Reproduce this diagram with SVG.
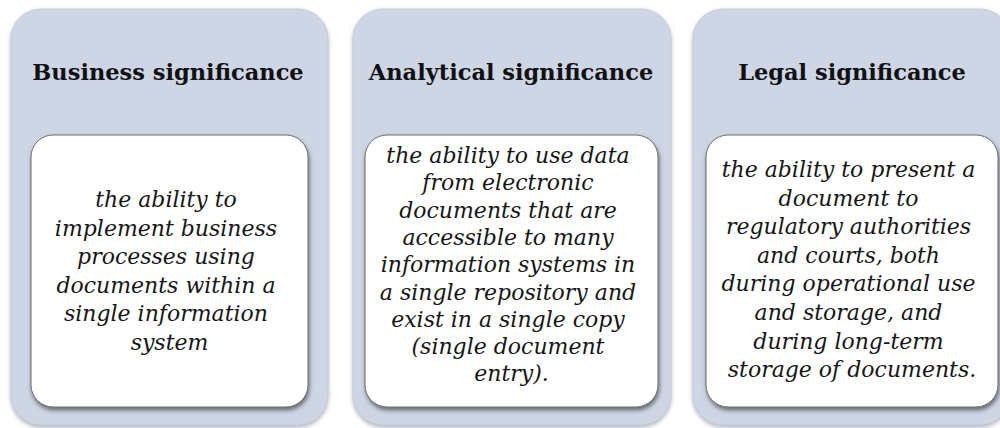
<svg xmlns="http://www.w3.org/2000/svg" width="1000" height="428" viewBox="0 0 1000 428">
  <defs>
    <filter id="outerShadow" x="-10%" y="-10%" width="120%" height="120%">
      <feDropShadow dx="0" dy="2" stdDeviation="2" flood-color="#7a8090" flood-opacity="0.6"/>
    </filter>
    <filter id="innerShadow" x="-10%" y="-10%" width="120%" height="120%">
      <feDropShadow dx="1" dy="3" stdDeviation="2" flood-color="#404040" flood-opacity="0.7"/>
    </filter>
  </defs>
  <style>
    .outer { fill: #ced6e5; stroke: #c2c8d4; stroke-width: 0.8; filter: url(#outerShadow); }
    .inner { fill: #ffffff; stroke: #6e6e6e; stroke-width: 1; filter: url(#innerShadow); }
    .head { font-family: "DejaVu Serif", "Liberation Serif", serif; font-weight: bold; font-size: 22.5px; fill: #111; text-anchor: middle; }
    .body { font-family: "DejaVu Serif", "Liberation Serif", serif; font-style: italic; font-size: 22px; fill: #161616; text-anchor: middle; }
  </style>
  <rect width="1000" height="428" fill="#ffffff"/>

  <g id="business">
    <rect class="outer" x="11" y="9" width="317" height="416" rx="30" ry="30"/>
    <text class="head" x="168" y="80">Business significance</text>
    <rect class="inner" x="31" y="135" width="277" height="272" rx="22" ry="22"/>
    <text class="body" x="169.5" y="207">
      <tspan x="169.5" dy="0">the ability to</tspan>
      <tspan x="169.5" dy="28.6">implement business</tspan>
      <tspan x="169.5" dy="28.6">processes using</tspan>
      <tspan x="169.5" dy="28.6">documents within a</tspan>
      <tspan x="169.5" dy="28.6">single information</tspan>
      <tspan x="169.5" dy="28.6">system</tspan>
    </text>
  </g>

  <g id="analytical">
    <rect class="outer" x="353" y="9" width="318" height="416" rx="30" ry="30"/>
    <text class="head" x="511" y="80">Analytical significance</text>
    <rect class="inner" x="365" y="135" width="293" height="272" rx="22" ry="22"/>
    <text class="body" x="511.5" y="163">
      <tspan x="511.5" dy="0">the ability to use data</tspan>
      <tspan x="511.5" dy="27.3">from electronic</tspan>
      <tspan x="511.5" dy="27.3">documents that are</tspan>
      <tspan x="511.5" dy="27.3">accessible to many</tspan>
      <tspan x="511.5" dy="27.3">information systems in</tspan>
      <tspan x="511.5" dy="27.3">a single repository and</tspan>
      <tspan x="511.5" dy="27.3">exist in a single copy</tspan>
      <tspan x="511.5" dy="27.3">(single document</tspan>
      <tspan x="511.5" dy="27.3">entry).</tspan>
    </text>
  </g>

  <g id="legal">
    <rect class="outer" x="693" y="9" width="317" height="416" rx="30" ry="30"/>
    <text class="head" x="852" y="80">Legal significance</text>
    <rect class="inner" x="706" y="135" width="292" height="272" rx="22" ry="22"/>
    <text class="body" x="852" y="177">
      <tspan x="852" dy="0">the ability to present a</tspan>
      <tspan x="852" dy="28.6">document to</tspan>
      <tspan x="852" dy="28.6">regulatory authorities</tspan>
      <tspan x="852" dy="28.6">and courts, both</tspan>
      <tspan x="852" dy="28.6">during operational use</tspan>
      <tspan x="852" dy="28.6">and storage, and</tspan>
      <tspan x="852" dy="28.6">during long-term</tspan>
      <tspan x="852" dy="28.6">storage of documents.</tspan>
    </text>
  </g>

  <g id="connectors"/>
</svg>
